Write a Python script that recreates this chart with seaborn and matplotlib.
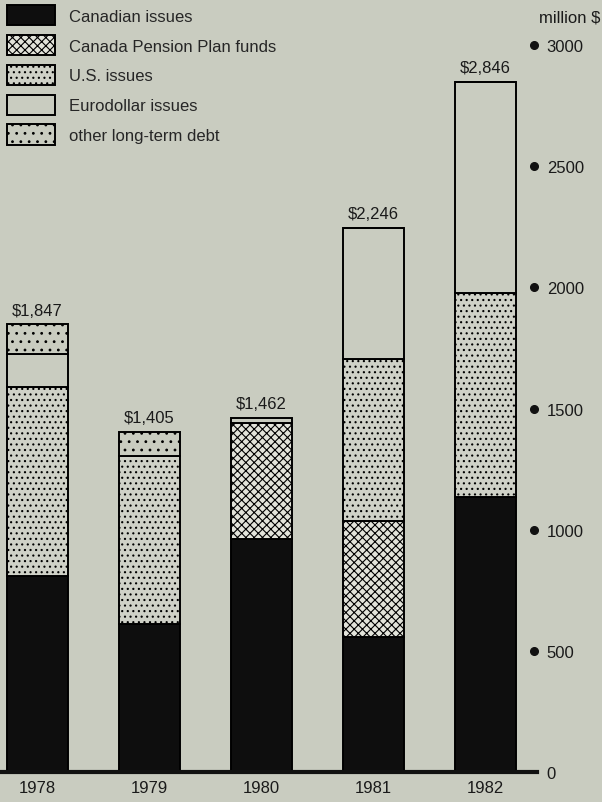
import matplotlib
matplotlib.use("Agg")
import matplotlib.pyplot as plt
import numpy as np
import pandas as pd
import seaborn as sns

# values in million $
years = ["1978", "1979", "1980", "1981", "1982"]
canadian = [809, 611, 962, 557, 1135]
cpp = [0, 0, 478, 480, 0]
us_issues = [780, 693, 0, 667, 842]
eurodollar = [136, 0, 0, 542, 869]
other_debt = [122, 101, 22, 0, 0]
totals = [1847, 1405, 1462, 2246, 2846]
series_names = [
    "Canadian issues",
    "Canada Pension Plan funds",
    "U.S. issues",
    "Eurodollar issues",
    "other long-term debt",
]
y_ticks = [0, 500, 1000, 1500, 2000, 2500, 3000]

bg = "#c9ccc0"
sns.set_theme(style="white")
plt.rcParams["font.family"] = ["Liberation Sans", "DejaVu Sans"]
plt.rcParams["hatch.linewidth"] = 0.8

df = pd.DataFrame(
    {
        "year": years,
        series_names[0]: canadian,
        series_names[1]: cpp,
        series_names[2]: us_issues,
        series_names[3]: eurodollar,
        series_names[4]: other_debt,
    }
)

# fill + texture for each layer (grey dots / squiggles of the print)
styles = {
    series_names[0]: dict(color="#0e0e0e", hatch=None),
    series_names[1]: dict(color="#e2e3da", hatch="xxxx"),
    series_names[2]: dict(color="#cfd1c7", hatch="..."),
    series_names[3]: dict(color=bg, hatch=None),
    series_names[4]: dict(color=bg, hatch=".."),
}

fig = plt.figure(figsize=(6.02, 8.03), dpi=100, facecolor=bg)
ax = fig.add_axes([0, 30 / 803, 537 / 602, 773 / 803])
ax.set_facecolor(bg)

bottom = np.zeros(len(years))
for name in series_names:
    st = styles[name]
    sns.barplot(
        data=df,
        x="year",
        y=name,
        color=st["color"],
        saturation=1,
        hatch=st["hatch"],
        edgecolor="black",
        linewidth=1.4,
        width=0.55,
        bottom=bottom,
        errorbar=None,
        label=name,
        ax=ax,
    )
    bottom = bottom + df[name].to_numpy()

# totals above bars
for i, total in enumerate(totals):
    ax.annotate(
        f"${total:,}",
        (i, total),
        xytext=(0, 5),
        textcoords="offset points",
        ha="center",
        va="bottom",
        fontsize=12,
        color="#1a1a1a",
    )

ax.set_xlim(-0.335, 4.46)
ax.set_ylim(0, 773 / 0.2423)

for side in ["top", "left", "right"]:
    ax.spines[side].set_visible(False)
ax.spines["bottom"].set_linewidth(3)
ax.spines["bottom"].set_color("#111111")

ax.yaxis.tick_right()
ax.set_yticks(y_ticks)
ax.set_yticklabels([str(t) for t in y_ticks])
ax.tick_params(axis="y", length=0, pad=7, labelsize=12, labelcolor="#1a1a1a")
ax.tick_params(axis="x", length=0, pad=6, labelsize=12, labelcolor="#1a1a1a")
ax.set_xlabel("")
ax.set_ylabel("")

# round markers next to the value labels
ax.plot(
    [0.994] * (len(y_ticks) - 1),
    y_ticks[1:],
    "o",
    color="#111111",
    markersize=5.5,
    transform=ax.get_yaxis_transform(),
    clip_on=False,
)

fig.text(0.998, 1 - 18 / 803, "million $", ha="right", va="center", fontsize=12, color="#1a1a1a")

ax.legend(
    loc="upper left",
    bbox_to_anchor=(7 / 602, 1 - 6 / 803),
    bbox_transform=fig.transFigure,
    frameon=False,
    borderpad=0,
    borderaxespad=0,
    handlelength=2.9,
    handleheight=1.5,
    handletextpad=0.8,
    labelspacing=0.57,
    fontsize=12,
)

fig.savefig("out.png", dpi=100, facecolor=bg)
